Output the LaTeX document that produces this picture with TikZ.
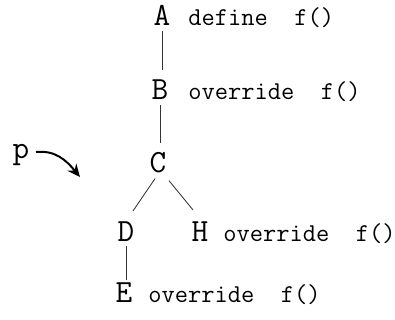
\documentclass[tikz,border=0pt]{standalone}
\usepackage{fontspec}
\usetikzlibrary{arrows.meta}
\tikzset{
  cls/.style={anchor=base, inner sep=1pt, font=\ttfamily\fontsize{23}{25}\selectfont},
  note/.style={anchor=base west, inner sep=0pt, font=\ttfamily\fontsize{18.3}{20}\selectfont},
  link/.style={black!80, line width=0.6pt},
  vlink/.style={link, shorten <=2.5pt, shorten >=6pt},
  pointer/.style={line width=1.4pt, -{Stealth[length=9pt, width=8pt]}}
}

\begin{document}
\begin{tikzpicture}[x=0.025cm, y=-0.025cm]
    \useasboundingbox (0,0) rectangle (395,320);

    % classes
    \node[cls] (A) at (162, 26) {A};
    \node[cls] (B) at (160,100) {B};
    \node[cls] (C) at (158,173) {C};
    \node[cls] (D) at (126,242) {D};
    \node[cls] (H) at (200,242) {H};
    \node[cls] (E) at (124,303) {E};

    % notes
    \node[note] (nA) at (188, 26) {define\ \ f()};
    \node[note] (nB) at (188,100) {override\ \ f()};
    \node[note] (nH) at (223,242) {override\ \ f()};
    \node[note] (nE) at (148,303) {override\ \ f()};

    % links
    \draw[vlink] (A.south) -- (A.south |- B.north);
    \draw[vlink] (B.south) -- (B.south |- C.north);
    \draw[link, shorten <=1.5pt, shorten >=1pt] (D.south) -- (D.south |- E.north);
    \draw[link] ([shift={(-3,3.6)}]C.south) -- ([shift={(7,-9.6)}]D.north);
    \draw[link] ([shift={(11,5.6)}]C.south) -- ([shift={(-7,-10.6)}]H.north);

    % pointer p
    \node[cls] (p) at (21,159) {p};
    \coordinate (ptip) at (80,177);
    \draw[pointer] ([shift={(5,-3.5)}]p.east) .. controls (55,150) and (66,160) .. (ptip);

\end{tikzpicture}
\end{document}
